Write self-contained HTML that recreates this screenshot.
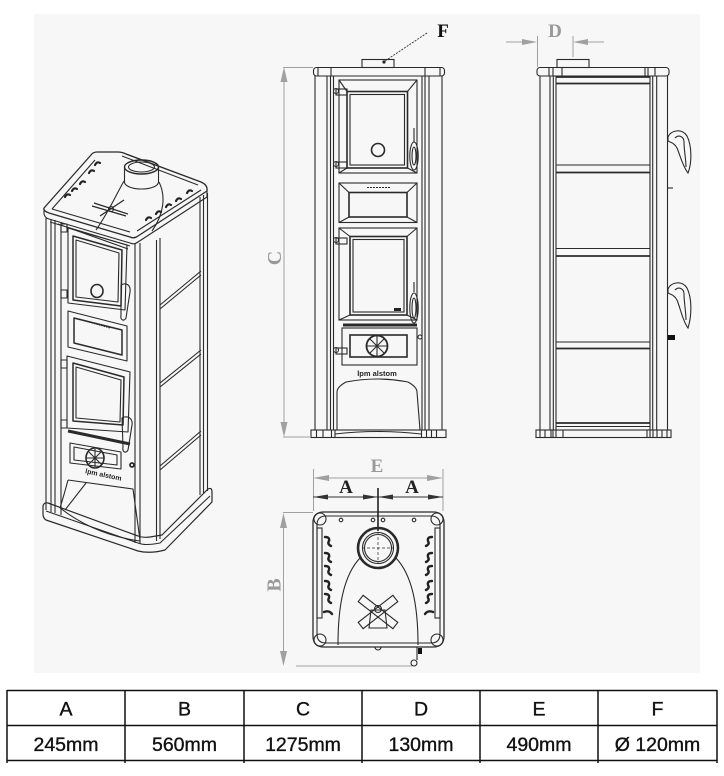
<!DOCTYPE html>
<html><head><meta charset="utf-8"><style>
html,body{margin:0;padding:0;background:#fff;width:724px;height:776px;overflow:hidden}
svg{display:block}
</style></head><body>
<svg width="724" height="776" viewBox="0 0 724 776" xmlns="http://www.w3.org/2000/svg">
<rect x="34" y="14" width="666" height="659" fill="#f7f7f7"/>

<!-- ================= FRONT VIEW ================= -->
<g fill="none" stroke="#2a2a2a" stroke-width="1.1">
  <rect x="362" y="59.5" width="32" height="8"/>
  <rect x="313.5" y="67.5" width="131" height="8.5" rx="3"/>
  <path d="M318,68V76M331,68V76M425,68V76M440,68V76"/>
  <path d="M315,76V430M327,76V430M330.5,76V430M333.5,76V430"/>
  <path d="M422,76V430M425,76V430M429,76V430M442,76V430"/>
  <rect x="339" y="80" width="78" height="93"/>
  <rect x="347" y="91.5" width="60.5" height="76.5" stroke-width="1.6"/>
  <rect x="350" y="94.5" width="54.5" height="70.5"/>
  <path d="M339,80L347,91.5M417,80L407.5,91.5M339,173L347,168M417,173L407.5,168"/>
  <circle cx="378" cy="150" r="6.5" stroke-width="1.6"/>
  <rect x="336" y="89" width="11" height="6"/><circle cx="336" cy="91" r="2.5"/>
  <rect x="336" y="162" width="11" height="6"/><circle cx="336" cy="164" r="2.5"/>
  <path d="M414,128V142"/><ellipse cx="414" cy="156" rx="4.2" ry="14"/><ellipse cx="414" cy="156" rx="2" ry="9"/>
  <rect x="339" y="183" width="78" height="39.5"/>
  <rect x="349" y="192.5" width="58" height="24.5" stroke-width="1.6"/>
  <path d="M339,183L349,192.5M417,183L407,192.5M339,222.5L349,217M417,222.5L407,217"/>
  <path d="M367,187.5H390" stroke-dasharray="2,1"/>
  <rect x="339" y="228" width="78" height="92"/>
  <rect x="350" y="236.5" width="57" height="78.5" stroke-width="1.6"/>
  <rect x="353" y="239.5" width="51" height="72.5"/>
  <path d="M339,228L350,236.5M417,228L407,236.5M339,320L350,315M417,320L407,315"/>
  <path d="M343,325H417" stroke-width="3"/>
  <rect x="342" y="328" width="75" height="37"/>
  <rect x="350" y="335" width="57" height="22" stroke-width="1.6"/>
  <circle cx="377" cy="346" r="10.5" stroke-width="1.8"/>
  <path d="M377,336V356M367,346H387M370,339L384,353M384,339L370,353"/>
  <rect x="336" y="238" width="11" height="6"/><circle cx="336" cy="240" r="2.5"/>
  <rect x="336" y="348" width="11" height="6"/><circle cx="336" cy="350" r="2.5"/>
  <path d="M414,282V292"/><ellipse cx="414" cy="308" rx="4.2" ry="15"/><ellipse cx="414" cy="308" rx="2" ry="10"/>
  <circle cx="420" cy="337" r="2"/>
  <path d="M337,430L337,392Q337,387 346,382Q377,376 408,382Q417,387 417,392L420,430"/>
  <rect x="311" y="430" width="135" height="7.5"/>
  <path d="M316.5,430V437.5M323,430V437.5M331.5,430V437.5M335,430V437.5M421.5,430V437.5M426.5,430V437.5M431.5,430V437.5M436.5,430V437.5"/>
  <path d="M335,434Q378,429 421,434"/>
</g>
<rect x="394" y="308" width="7" height="3" fill="#222"/>
<text x="377" y="376" text-anchor="middle" font-family="Liberation Sans, sans-serif" font-weight="bold" font-size="7.5" fill="#222">lpm alstom</text>

<path d="M427,33L385,61" stroke="#333" stroke-width="0.9" stroke-dasharray="2,1.2" fill="none"/>
<circle cx="384" cy="62" r="1.6" fill="#222"/>
<text x="443" y="37" text-anchor="middle" font-family="Liberation Serif, serif" font-weight="bold" font-size="19" fill="#111">F</text>

<g stroke="#a0a0a0" stroke-width="1" fill="none">
  <path d="M284,78V426M283,67.5H313M283,437H311"/>
</g>
<polygon points="284,67 280.5,82 287.5,82" fill="#a0a0a0"/>
<polygon points="284,437 280.5,422 287.5,422" fill="#a0a0a0"/>
<text transform="translate(281,258) rotate(-90)" text-anchor="middle" font-family="Liberation Serif, serif" font-weight="bold" font-size="20" fill="#9a9a9a">C</text>

<!-- ================= SIDE VIEW ================= -->
<g fill="none" stroke="#2a2a2a" stroke-width="1.1">
  <rect x="557" y="59.5" width="32" height="8"/>
  <rect x="537" y="67.5" width="132" height="8.5" rx="3"/>
  <path d="M549,68V76M553,68V76M562,68V76M645,68V76M648,68V76M655,68V76"/>
  <path d="M540,76V430M550,76V430M553.3,76V430M556,76V430"/>
  <path d="M650,76V430M652.7,76V430M656.7,76V430M667.5,76V430"/>
  <path d="M556,77H650M556,83.5H650" stroke-width="1.8"/>
  <path d="M556,165H650"/><path d="M556,172.5H650" stroke-width="1.8"/>
  <path d="M556,248.5H650"/><path d="M556,256H650" stroke-width="1.8"/>
  <path d="M556,342H650"/><path d="M556,348.5H650" stroke-width="1.8"/>
  <path d="M556,423H650" stroke-width="1.8"/><path d="M556,426.5H650"/>
  <rect x="536" y="430" width="135" height="7.5"/>
  <path d="M540,430V437.5M545,430V437.5M551,430V437.5M553,430V437.5M556,430V437.5M563,430V437.5M647,430V437.5M650,430V437.5M653,430V437.5M657,430V437.5M662,430V437.5M667,430V437.5"/>
  <path d="M668,137C671,130 682,128 687,136C692,146 692,163 688,173C683,167 680,155 677,148C674,142 669,142 668,141Z"/>
  <path d="M675,138C679,134 684,137 684,142C684,150 686,160 686,167"/>
  <path d="M668,289C671,282 682,280 687,288C692,298 692,315 688,328C683,322 680,307 677,300C674,294 669,294 668,293Z"/>
  <path d="M675,290C679,286 684,289 684,294C684,302 686,312 686,320"/>
  <path d="M668,188H673"/>
</g>
<rect x="668" y="335" width="7" height="5" fill="#111"/>

<g stroke="#a0a0a0" stroke-width="1" fill="none">
  <path d="M506,42H525M585,42H604M537.5,36V67M573,36V57"/>
</g>
<polygon points="537,42 522,39 522,45" fill="#a0a0a0"/>
<polygon points="573,42 588,39 588,45" fill="#a0a0a0"/>
<text x="555" y="37" text-anchor="middle" font-family="Liberation Serif, serif" font-weight="bold" font-size="19" fill="#9a9a9a">D</text>

<!-- ================= TOP VIEW ================= -->
<g stroke="#a0a0a0" stroke-width="1" fill="none">
  <path d="M326,478H430M313.5,469V511M443,469V511"/>
  <path d="M296,666H412M283,512.5H313M283.5,526V652"/>
</g>
<polygon points="313,478 329,475 329,481" fill="#a0a0a0"/>
<polygon points="443,478 427,475 427,481" fill="#a0a0a0"/>
<polygon points="283.5,513 280,528 287,528" fill="#a0a0a0"/>
<polygon points="283.5,666 280,651 287,651" fill="#a0a0a0"/>
<text x="377" y="472" text-anchor="middle" font-family="Liberation Serif, serif" font-weight="bold" font-size="19" fill="#9a9a9a">E</text>
<text transform="translate(280.5,585) rotate(-90)" text-anchor="middle" font-family="Liberation Serif, serif" font-weight="bold" font-size="20" fill="#9a9a9a">B</text>

<path d="M313,497H443" stroke="#333" stroke-width="1" fill="none"/>
<polygon points="313,497 328,494.5 328,499.5" fill="#333"/>
<polygon points="378,497 363,494.5 363,499.5" fill="#333"/>
<polygon points="378,497 393,494.5 393,499.5" fill="#333"/>
<polygon points="443,497 428,494.5 428,499.5" fill="#333"/>
<path d="M378,488V531" stroke="#222" stroke-width="1.6"/>
<text x="346" y="493" text-anchor="middle" font-family="Liberation Serif, serif" font-weight="bold" font-size="19" fill="#222">A</text>
<text x="412" y="493" text-anchor="middle" font-family="Liberation Serif, serif" font-weight="bold" font-size="19" fill="#222">A</text>

<g fill="none" stroke="#2a2a2a" stroke-width="1.1">
  <path d="M324,512H433Q444,512 444,523V636Q444,647 433,647H324Q313,647 313,636V523Q313,512 324,512Z" stroke-width="1.3"/>
  <path d="M326,516H431Q440,516 440,525V634Q440,643 431,643H326Q317,643 317,634V525Q317,516 326,516Z"/>
  <circle cx="320" cy="519" r="6"/><circle cx="437" cy="519" r="6"/>
  <circle cx="320" cy="640" r="6"/><circle cx="437" cy="640" r="6"/>
  <rect x="317" y="528" width="5" height="90"/>
  <rect x="435" y="528" width="5" height="90"/>
  <circle cx="341" cy="520" r="1.8"/><circle cx="373" cy="520" r="1.8"/><circle cx="383" cy="520" r="1.8"/><circle cx="414" cy="520" r="1.8"/>
  <circle cx="378" cy="548" r="20" stroke-width="2.6"/>
  <circle cx="378" cy="548" r="15.5"/>
  <circle cx="378" cy="548" r="13.5"/>
  <path d="M362,548H394M378,532V564" stroke-dasharray="3,2" stroke-width="0.7"/>
  <path d="M338,645C338,605 344,575 360,558M418,645C418,605 412,575 396,558"/>
  <g transform="translate(378,612)">
    <rect x="-22" y="-4" width="44" height="8" transform="rotate(38)"/>
    <rect x="-22" y="-4" width="44" height="8" transform="rotate(-38)"/>
    <path d="M-7,-2L-9,16H9L7,-2Z"/>
    <circle cx="0" cy="-3" r="3.5"/>
  </g>
  <path d="M375,647A3,3 0 0 0 381,647"/>
  <path d="M417,647V660"/>
  <circle cx="414" cy="663" r="3"/>
</g>
<rect x="418" y="648" width="4" height="6" fill="#111"/>
<g fill="none" stroke="#222" stroke-width="2.4" stroke-linecap="round">
  <path d="M325,537q5,0 4,4q-2,3 2,5"/>
  <path d="M325,553q5,0 4,4q-2,3 2,5"/>
  <path d="M325,566q5,0 4,4q-2,3 2,5"/>
  <path d="M325,581q5,0 4,4q-2,3 2,5"/>
  <path d="M325,594q5,0 4,4q-2,3 2,5"/>
  <path d="M324,612q5,-2 8,2"/>
  <path d="M432,537q-5,0 -4,4q2,3 -2,5"/>
  <path d="M432,553q-5,0 -4,4q2,3 -2,5"/>
  <path d="M432,566q-5,0 -4,4q2,3 -2,5"/>
  <path d="M432,581q-5,0 -4,4q2,3 -2,5"/>
  <path d="M432,594q-5,0 -4,4q2,3 -2,5"/>
  <path d="M433,612q-5,-2 -8,2"/>
</g>

<!-- ================= PERSPECTIVE VIEW ================= -->
<g fill="none" stroke="#2a2a2a" stroke-width="1.1" stroke-linejoin="round">
  <path d="M44,208L91,155Q93,152 97,152L118,152Q122,152 126,154L201,182Q208,185 207,191L138,236Q134,239 130,237L49,213Q43,211 44,208Z" stroke-width="1.3"/>
  <path d="M44,208V214Q45,218 49,219L130,243Q134,245 138,242L207,197V191"/>
  <path d="M52,209L95,160M52,209L130,232M137,231L201,190M122,156L198,185"/>
  <ellipse cx="141.5" cy="167" rx="17" ry="7" stroke-width="1.4"/>
  <ellipse cx="141.5" cy="167" rx="13" ry="5"/>
  <path d="M124.5,167V182M158.5,167V182M124.5,182A17,7 0 0 0 158.5,182"/>
  <path d="M124,181C116,195 108,213 96,230M159,182C166,196 164,214 152,231"/>
  <path d="M94,203L128,214M100,216L124,200M92,206L126,216" stroke-width="1.3"/>
  <circle cx="111" cy="209" r="2.5"/>
  <path d="M46,218V510M51,219V512M55,220V513M61,222V515"/>
  <path d="M50,222L130,246M58,224L128,249"/>
  <path d="M135,243V543M140,243V544M156.5,240V541M160,238V539"/>
  <path d="M200,197V495M203.5,195V493M207.5,193V491"/>
  <path d="M160,305L201,271M160,309L201,275"/>
  <path d="M160,383L201,350M160,387L201,354"/>
  <path d="M160,466L201,431M160,470L201,435"/>
  <path d="M68,228L127,245L125,310L68,303Z"/>
  <path d="M73,236L122,250L121,306L73,300Z" stroke-width="1.5"/>
  <path d="M76,240L119,253L118,302L76,297Z"/>
  <ellipse cx="97" cy="291" rx="6" ry="6.5" stroke-width="1.6"/>
  <path d="M121,285C126,282 131,285 130,292L126,318C124,322 120,320 121,315Z"/>
  <rect x="61" y="224" width="6" height="8"/><rect x="61" y="290" width="6" height="8"/>
  <path d="M68,311L127,326L127,361L68,347Z"/>
  <path d="M74,318L122,330L122,355L74,343Z" stroke-width="1.5"/>
  <path d="M82,320L110,328" stroke-dasharray="1.5,1"/>
  <path d="M67,356L130,372L128,432L67,428Z"/>
  <path d="M73,363L124,377L123,425L73,421Z" stroke-width="1.5"/>
  <path d="M76,367L121,380L120,422L76,418Z"/>
  <path d="M68,431L130,444" stroke-width="3"/>
  <path d="M70,443L121,452L121,469L70,463Z"/>
  <path d="M74,447L117,455L117,465L74,460Z"/>
  <ellipse cx="95" cy="458" rx="9" ry="10" stroke-width="1.6"/>
  <path d="M95,449V467M86,458H104M89,452L101,464M101,452L89,464"/>
  <path d="M122,418C127,415 133,418 132,425L128,450C126,454 122,452 123,447Z"/>
  <circle cx="132" cy="465" r="2" stroke-width="1.8"/>
  <rect x="61" y="360" width="6" height="8"/><rect x="61" y="420" width="6" height="8"/>
  <path d="M68,480L133,489L140,540M68,480Q64,495 60,508M60,508Q95,535 140,541M65,510L86,483"/>
  <path d="M43,506Q44,502 48,503L138,536Q143,538 150,537L162,535L208,489Q212,487 212,492V502L165,550Q150,554 138,551L46,520Q43,518 43,514Z" stroke-width="1.2"/>
  <path d="M46,511L138,543Q145,546 160,543L210,496"/>
</g>
<g fill="none" stroke="#222" stroke-width="2.2" stroke-linecap="round">
  <path d="M65,197q2,-4 5,-2"/><path d="M72,191q2,-4 5,-2"/><path d="M80,184q2,-4 5,-2"/><path d="M89,173q2,-4 5,-2"/><path d="M95,165q2,-4 5,-2"/>
  <path d="M146,220q2,-4 5,-2"/><path d="M156,214q2,-4 5,-2"/><path d="M166,207q2,-4 5,-2"/><path d="M176,201q2,-4 5,-2"/><path d="M187,193q2,-4 5,-2"/>
</g>
<text transform="translate(103,477) rotate(12)" text-anchor="middle" font-family="Liberation Sans, sans-serif" font-weight="bold" font-size="7" fill="#222">lpm alstom</text>

<!-- ================= TABLE ================= -->
<g stroke="#111" stroke-width="1.5" fill="none">
  <path d="M7,690.5H717M7,725.5H717M7,760.5H717"/>
  <path d="M7,690V763M125,690V763M244,690V763M362,690V763M480,690V763M598,690V763M717,690V763"/>
</g>
<g font-family="Liberation Sans, Arial, sans-serif" font-size="19.5" fill="#111" stroke="#111" stroke-width="0.35" text-anchor="middle">
  <text x="66" y="715.5">A</text>
  <text x="184.5" y="715.5">B</text>
  <text x="303" y="715.5">C</text>
  <text x="421" y="715.5">D</text>
  <text x="539" y="715.5">E</text>
  <text x="657.5" y="715.5">F</text>
  <text x="66" y="751">245mm</text>
  <text x="184.5" y="751">560mm</text>
  <text x="303" y="751">1275mm</text>
  <text x="421" y="751">130mm</text>
  <text x="539" y="751">490mm</text>
  <text x="657.5" y="751">Ø 120mm</text>
</g>
</svg>
</body></html>
